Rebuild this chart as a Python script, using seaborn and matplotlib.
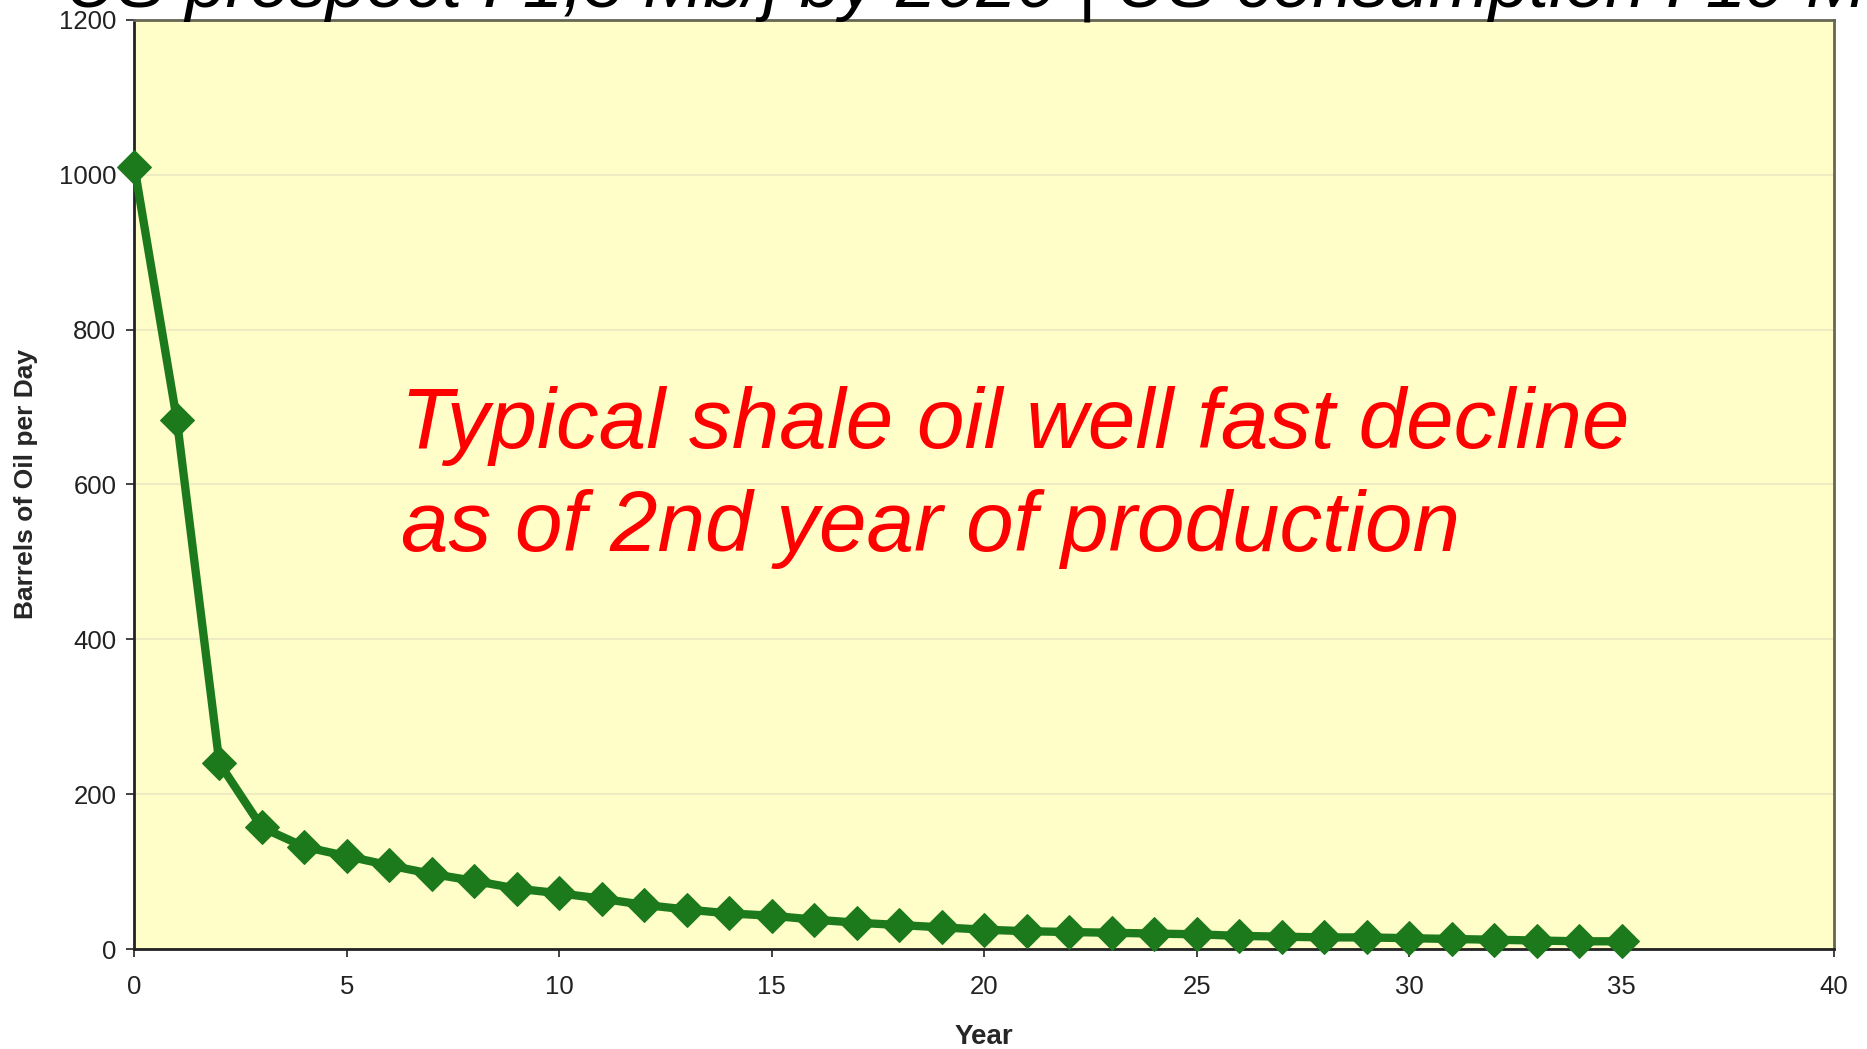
import matplotlib
matplotlib.use("Agg")
import matplotlib.pyplot as plt
import seaborn as sns
import pandas as pd

# dados
anos = list(range(0, 36))
barris_dia = [1010, 683, 240, 157, 132, 120, 108, 97, 88, 78,
              72, 65, 57, 51, 46, 43, 38, 34, 31, 28,
              25, 23, 22, 21, 20, 19, 17, 16, 15, 15,
              14, 13, 12, 11, 10, 10]
y_ticks = [0, 200, 400, 600, 800, 1000, 1200]
x_ticks = [0, 5, 10, 15, 20, 25, 30, 35, 40]

titulo = "US prospect : 1,3 Mb/j by 2020 | US consumption : 19 Mb/j"
anotacao = "Typical shale oil well fast decline\nas of 2nd year of production"

df = pd.DataFrame({"ano": anos, "barris": barris_dia})

sns.set_theme(style="ticks")
plt.rcParams["font.family"] = ["Liberation Sans", "DejaVu Sans"]

fig = plt.figure(figsize=(18.67, 10.49), dpi=100)
ax = fig.add_axes([0.072, 0.0953, 0.9103, 0.8857])
ax.set_facecolor("#FFFDC8")

ax.grid(axis="y", color="#EFEBC3", linewidth=1.5)
ax.set_axisbelow(True)

sns.lineplot(data=df, x="ano", y="barris", ax=ax, color="#1C7A1C",
             linewidth=6, marker="D", markersize=17,
             markeredgecolor="#1C7A1C", zorder=5, clip_on=False)

ax.set_xlim(0, 40)
ax.set_ylim(0, 1200)
ax.set_xticks(x_ticks)
ax.set_yticks(y_ticks)
ax.tick_params(axis="both", labelsize=18.5, length=6, width=1.2, colors="#222222", pad=7)
ax.tick_params(axis="x", pad=13)

for lado in ["left", "bottom"]:
    ax.spines[lado].set_color("#222222")
    ax.spines[lado].set_linewidth(2)
for lado in ["top", "right"]:
    ax.spines[lado].set_color("#666655")
    ax.spines[lado].set_linewidth(2)

ax.set_xlabel("Year", fontsize=20, fontweight="bold", labelpad=18)
ax.set_ylabel("Barrels of Oil per Day", fontsize=19, fontweight="bold", labelpad=15)

# texto vermelho dentro do grafico (baseline da ultima linha)
ax.text(0.157, 0.428, anotacao, transform=ax.transAxes, color="red",
        fontsize=61.5, style="italic",
        ha="left", va="baseline", linespacing=1.38)

# titulo cortado no topo da imagem
fig.text(0.035, 1 - 6 / 1049, titulo, color="black", fontsize=52,
         style="italic", ha="left", va="baseline")

fig.savefig("out.png", dpi=100, facecolor="white")
